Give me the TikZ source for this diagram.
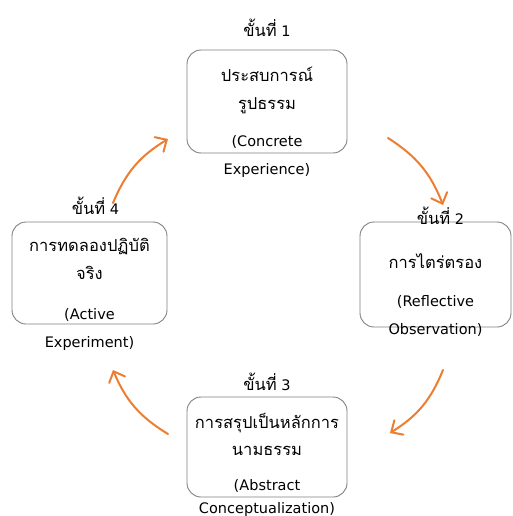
\documentclass[tikz,border=0pt]{standalone}
\usepackage{fontspec}
\setmainfont{DejaVu Sans}
\newfontfamily\thaifont[Script=Thai]{Loma}
\usepackage{tikz}
\usetikzlibrary{positioning,arrows.meta}

\definecolor{cycleorange}{HTML}{ED7D31}
\definecolor{boxgray}{HTML}{808080}

\newcommand{\thaitext}[1]{{\thaifont\fontsize{16.5}{28}\selectfont #1}}

\tikzset{
  stagebox/.style={draw=boxgray, line width=0.9pt, rounded corners=14pt, inner sep=0pt},
  stagetext/.style={align=center, inner sep=0pt, font=\fontsize{14.5}{28}\selectfont},
  steplabel/.style={inner sep=0pt, font=\fontsize{14.5}{16}\selectfont},
  cyclearrow/.style={draw=cycleorange, line width=2pt, line cap=round,
    -{Straight Barb[length=9pt,width=17pt,line cap=round]}, bend left=18}
}

\begin{document}
\begin{tikzpicture}[x=1pt,y=-1pt]
                \useasboundingbox (0,0) rectangle (512,516);
                % the four stages
                \node (stageA) [stagebox, minimum width=160pt, minimum height=103pt] at (267,101.5) {};
                \node (stageB) [stagebox, minimum width=151pt, minimum height=105pt] at (435.5,274.5) {};
                \node (stageC) [stagebox, minimum width=160pt, minimum height=100pt] at (267,447) {};
                \node (stageD) [stagebox, minimum width=155pt, minimum height=102pt] at (89.5,273) {};
                \node (stageAtext) [stagetext] at ([yshift=-21pt]stageA.center) {\thaitext{ประสบการณ์}\\\thaitext{รูปธรรม}\\[9pt](Concrete\\Experience)};
                \node (stageBtext) [stagetext] at ([yshift=-21pt]stageB.center) {\thaitext{การไตร่ตรอง}\\[10pt](Reflective\\Observation)};
                \node (stageCtext) [stagetext] at ([yshift=-18pt]stageC.center) {\thaitext{การสรุปเป็นหลักการ}\\[-1pt]\thaitext{นามธรรม}\\[7pt](Abstract\\[-5pt]Conceptualization)};
                \node (stageDtext) [stagetext] at ([yshift=-21pt]stageD.center) {\thaitext{การทดลองปฏิบัติ}\\\thaitext{จริง}\\[12pt](Active\\Experiment)};
                \node (labelA) [steplabel, above=13pt of stageA.north] {\thaitext{ขั้นที่} 1};
                \node (labelB) [steplabel, above=-3pt of stageB.north, xshift=5pt] {\thaitext{ขั้นที่} 2};
                \node (labelC) [steplabel, above=6pt of stageC.north] {\thaitext{ขั้นที่} 3};
                \node (labelD) [steplabel, above=7pt of stageD.north, xshift=6pt] {\thaitext{ขั้นที่} 4};
                % arrow ends
                \coordinate (arrowAout) at (388,138);
                \coordinate (arrowBin) at (443,205);
                \coordinate (arrowBout) at (443,370);
                \coordinate (arrowCin) at (390,433);
                \coordinate (arrowCout) at (168,434);
                \coordinate (arrowDin) at (113,370);
                \coordinate (arrowDout) at (113,203);
                \coordinate (arrowAin) at (168,139);
                \draw[cyclearrow] (arrowAout) to (arrowBin);
                \draw[cyclearrow] (arrowBout) to (arrowCin);
                \draw[cyclearrow] (arrowCout) to (arrowDin);
                \draw[cyclearrow] (arrowDout) to (arrowAin);
            \end{tikzpicture}
\end{document}
